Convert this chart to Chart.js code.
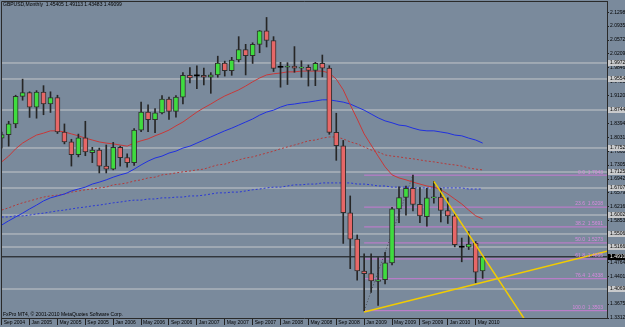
<!DOCTYPE html>
<html>
<head>
<meta charset="utf-8">
<script src="https://cdn.jsdelivr.net/npm/chart.js@4.4.1/dist/chart.umd.min.js"></script>
<style>
  html, body { margin: 0; padding: 0; background: #7a8a9c; }
  #wrap { width: 625px; height: 327px; }
</style>
</head>
<body>
<div id="wrap"><canvas id="chartGbp" width="625" height="327"></canvas></div>
<script>
// GBPUSD monthly, Sep 2004 .. Jun 2010 (index 0 = Sep 2004)
const opens  = [1.801,1.810,1.838,1.910,1.920,1.882,1.921,1.890,1.907,1.817, 1.791,1.758,1.802,1.763,1.770,1.728,1.720,1.777,1.750,1.737,
                1.822,1.869,1.849,1.867,1.903,1.871,1.908,1.965,1.9635,1.965, 1.960,1.966,1.997,1.977,2.005,2.032,2.016,2.046,2.081,2.056,
                1.986,1.986,1.989,1.984,1.986,1.978,1.996,1.984,1.816,1.781, 1.606,1.537,1.454,1.447,1.427,1.431,1.475,1.616,1.646,1.670,
                1.628,1.596,1.645,1.647,1.612,1.598,1.516,1.516,1.527,1.454];
const highs  = [1.817,1.845,1.913,1.955,1.922,1.925,1.938,1.922,1.913,1.838, 1.798,1.8115,1.845,1.777,1.775,1.783,1.790,1.780,1.760,1.826,
                1.895,1.888,1.878,1.912,1.908,1.912,1.972,1.985,1.990,1.984, 1.972,2.015,2.002,2.012,2.066,2.046,2.050,2.082,2.1161,2.066,
                1.999,1.998,2.040,2.003,1.992,1.999,2.018,1.990,1.866,1.795, 1.650,1.548,1.499,1.499,1.489,1.503,1.620,1.674,1.676,1.7043,
                1.672,1.670,1.688,1.670,1.645,1.605,1.540,1.557,1.531,1.4911];
const lows   = [1.775,1.780,1.828,1.900,1.855,1.853,1.862,1.868,1.813,1.786, 1.728,1.752,1.755,1.737,1.710,1.710,1.718,1.728,1.725,1.730,
                1.818,1.818,1.815,1.864,1.850,1.856,1.890,1.945,1.930,1.940, 1.918,1.960,1.963,1.965,2.000,1.966,1.996,2.024,2.039,1.975,
                1.934,1.941,1.973,1.960,1.937,1.938,1.961,1.811,1.743,1.526, 1.460,1.430,1.350,1.398,1.364,1.420,1.470,1.580,1.600,1.611,
                1.580,1.571,1.631,1.582,1.578,1.517,1.478,1.510,1.423,1.4348];
const closes = [1.810,1.838,1.910,1.920,1.882,1.921,1.890,1.907,1.817,1.791, 1.758,1.802,1.765,1.770,1.728,1.720,1.777,1.750,1.737,1.822,
                1.869,1.849,1.867,1.903,1.871,1.908,1.965,1.958,1.9635,1.960, 1.966,1.997,1.977,2.005,2.032,2.016,2.046,2.081,2.056,1.983,
                1.986,1.989,1.984,1.986,1.978,1.996,1.984,1.816,1.781,1.606, 1.537,1.454,1.447,1.428,1.431,1.475,1.616,1.646,1.670,1.628,
                1.598,1.645,1.647,1.612,1.598,1.523,1.516,1.524,1.451,1.4910];

// moving averages
const maRed = [1.739,1.754,1.773,1.788,1.799,1.809,1.814,1.820,1.820,1.817, 1.812,1.807,1.801,1.796,1.791,1.788,1.786,1.783,1.780,1.788,
               1.794,1.799,1.807,1.814,1.822,1.833,1.843,1.856,1.869,1.880, 1.890,1.901,1.911,1.919,1.927,1.937,1.948,1.958,1.966,1.969,
               1.971,1.974,1.974,1.976,1.976,1.976,1.976,1.971,1.955,1.927, 1.888,1.851,1.812,1.783,1.754,1.726,1.705,1.697,1.692,1.686,
               1.681,1.676,1.673,1.666,1.655,1.642,1.629,1.613,1.598,1.590];
const maBlue = [1.574,1.585,1.595,1.605,1.616,1.626,1.637,1.645,1.650,1.655, 1.663,1.668,1.673,1.681,1.686,1.692,1.699,1.705,1.710,1.720,
                1.731,1.741,1.749,1.754,1.762,1.767,1.775,1.780,1.788,1.796, 1.804,1.812,1.820,1.827,1.835,1.843,1.851,1.861,1.869,1.874,
                1.882,1.888,1.890,1.893,1.895,1.898,1.901,1.901,1.898,1.895, 1.890,1.882,1.874,1.864,1.854,1.846,1.841,1.835,1.833,1.827,
                1.822,1.820,1.820,1.817,1.814,1.809,1.807,1.801,1.796,1.788];
const maRedSlow = [1.613,1.619,1.626,1.632,1.637,1.642,1.647,1.650,1.652,1.655, 1.660,1.663,1.666,1.668,1.671,1.673,1.679,1.681,1.684,1.689,
                   1.692,1.697,1.699,1.705,1.707,1.710,1.713,1.715,1.718,1.720, 1.726,1.731,1.733,1.739,1.744,1.749,1.752,1.757,1.762,1.767,
                   1.773,1.778,1.783,1.788,1.794,1.796,1.801,1.804,1.804,1.799, 1.791,1.786,1.778,1.770,1.765,1.757,1.754,1.752,1.749,1.747,
                   1.744,1.741,1.739,1.736,1.733,1.731,1.728,1.723,1.720,1.718];
const maBlueSlow = [1.595,1.595,1.598,1.598,1.600,1.603,1.605,1.608,1.611,1.613, 1.616,1.619,1.621,1.624,1.626,1.629,1.632,1.634,1.637,1.639,
                    1.639,1.642,1.642,1.645,1.645,1.647,1.647,1.650,1.650,1.652, 1.655,1.658,1.658,1.660,1.660,1.663,1.666,1.668,1.671,1.673,
                    1.673,1.676,1.679,1.679,1.681,1.681,1.684,1.684,1.684,1.684, 1.684,1.681,1.681,1.679,1.676,1.676,1.673,1.673,1.673,1.671,
                    1.671,1.671,1.671,1.671,1.671,1.671,1.671,1.668,1.668,1.668];

// horizontal lines, fibo, trend lines
const hLevels = [1.9972, 1.9554, 1.8744, 1.7752, 1.7125, 1.6707, 1.6002, 1.5506, 1.5166, 1.4069];
const fibPct = [0.0, 23.6, 38.2, 50.0, 61.8, 76.4, 100.0];
const fibPrice = [1.7043, 1.6208, 1.5691, 1.5273, 1.4855, 1.4338, 1.3503];
const fibAnchor = [{x: 52, y: 1.3503}, {x: 59, y: 1.7043}];
const supportLine = [{x: 52, y: 1.347}, {x: 88, y: 1.5106}];
const resistLine = [{x: 62, y: 1.688}, {x: 75, y: 1.3283}];
const currentPrice = 1.4910;

const xTickIdx = [0,4,8,12,16,20,24,28,32,36,40,44,48,52,56,60,64,68];
const xTickLabels = ['Sep 2004','Jan 2005','May 2005','Sep 2005','Jan 2006','May 2006','Sep 2006','Jan 2007','May 2007',
                     'Sep 2007','Jan 2008','May 2008','Sep 2008','Jan 2009','May 2009','Sep 2009','Jan 2010','May 2010'];
const yTicks = [2.1298,2.0935,2.0572,2.0209,1.9846,1.9483,1.9120,1.8757,1.8394,1.8031,1.7668,1.7305,
                1.6942,1.6579,1.6216,1.5853,1.5490,1.5127,1.4764,1.4401,1.4038,1.3675,1.3312];

const titleText = 'GBPUSD,Monthly  1.45405 1.49113 1.43483 1.49099';
const footerText = 'FxPro MT4, \u00a9 2001-2010 MetaQuotes Software Corp.';

const X_MIN = -0.1, X_MAX = 86.84;
const Y_MIN = 1.3312, Y_MAX = 2.1591;
const FONT = '"Liberation Sans", Arial, sans-serif';

const idx = opens.map((_, i) => i);
const candleColor = idx.map(i => closes[i] > opens[i] ? '#3fdc3f' : (closes[i] < opens[i] ? '#e66767' : '#000000'));

const lineSet = (data, color, width, dash, order) => ({
  type: 'line', data: data, borderColor: color, borderWidth: width, borderDash: dash || [],
  pointRadius: 0, tension: 0, order: order
});

const datasets = [
  {
    type: 'bar', data: idx.map(i => ({x: i, y: [opens[i], closes[i]]})),
    backgroundColor: candleColor, borderColor: '#303030',
    borderWidth: idx.map(i => closes[i] === opens[i] ? 0 : 1),
    borderSkipped: false, barThickness: 5, minBarLength: 1, grouped: false, order: 1
  },
  {
    type: 'bar', data: idx.map(i => ({x: i, y: [lows[i], highs[i]]})),
    backgroundColor: '#262626', barThickness: 1, grouped: false, order: 2
  },
  lineSet(idx.map(i => ({x: i, y: maRed[i]})), '#c93838', 1, null, 5),
  lineSet(idx.map(i => ({x: i, y: maBlue[i]})), '#2030e0', 1, null, 5),
  lineSet(idx.map(i => ({x: i, y: maRedSlow[i]})), '#b53a3a', 1, [2, 2], 6),
  lineSet(idx.map(i => ({x: i, y: maBlueSlow[i]})), '#2a38d6', 1, [2, 2], 6),
  lineSet([{x: X_MIN - 2, y: currentPrice}, {x: X_MAX + 2, y: currentPrice}], '#111111', 1, null, 4),
  lineSet(fibAnchor, 'rgba(50,50,50,0.7)', 1, [1, 2], 7),
  lineSet(supportLine, '#f2cc00', 1.5, null, -1),
  lineSet(resistLine, '#f2cc00', 1.5, null, -1)
];
hLevels.forEach(p => datasets.push(lineSet([{x: X_MIN - 2, y: p}, {x: X_MAX + 2, y: p}], '#c4c7ca', 1, null, 10)));
fibPrice.forEach(p => datasets.push(lineSet([{x: fibAnchor[0].x, y: p}, {x: X_MAX + 2, y: p}], '#c87ad2', 1, null, 9)));

const mt4Overlay = {
  id: 'mt4Overlay',
  beforeDraw(chart) {
    const c = chart.ctx;
    c.save();
    c.fillStyle = '#7a8a9c';
    c.fillRect(0, 0, chart.width, chart.height);
    c.restore();
  },
  afterDraw(chart) {
    const c = chart.ctx, a = chart.chartArea, ys = chart.scales.y;
    c.save();
    // frame
    c.strokeStyle = '#2a2a2a';
    c.lineWidth = 1;
    c.beginPath();
    c.moveTo(a.left + 0.5, a.bottom);
    c.lineTo(a.left + 0.5, a.top + 0.5);
    c.lineTo(a.right, a.top + 0.5);
    c.stroke();

    // fibo labels
    c.font = '5px ' + FONT;
    c.fillStyle = '#d98ae0';
    c.textAlign = 'right';
    c.textBaseline = 'bottom';
    fibPct.forEach((pct, i) => {
      c.fillText(pct.toFixed(1) + '  ' + fibPrice[i].toFixed(4), a.right - 4, ys.getPixelForValue(fibPrice[i]) - 0.5);
    });

    // axis boxes for the horizontal lines
    c.textAlign = 'left';
    c.textBaseline = 'middle';
    hLevels.forEach(p => {
      const py = Math.round(ys.getPixelForValue(p));
      c.fillStyle = '#c9cacc';
      c.fillRect(a.right + 1, py - 3, 24, 6);
      c.fillStyle = '#000';
      c.fillText(p.toFixed(5), a.right + 3, py);
    });
    const cy = Math.round(ys.getPixelForValue(currentPrice));
    c.fillStyle = '#000';
    c.fillRect(a.right + 1, cy - 3, 24, 6);
    c.fillStyle = '#fff';
    c.fillText(currentPrice.toFixed(5), a.right + 3, cy);

    // title and footer
    c.fillStyle = '#000';
    c.textBaseline = 'top';
    c.fillText(titleText, 3, 2);
    c.textBaseline = 'bottom';
    c.fillText(footerText, 3, a.bottom - 1);
    c.restore();
  }
};

new Chart(document.getElementById('chartGbp'), {
  type: 'bar',
  data: { datasets: datasets },
  options: {
    responsive: false,
    animation: false,
    events: [],
    devicePixelRatio: 1,
    layout: { padding: { top: 1, left: 1, right: 0, bottom: 0 } },
    plugins: { legend: { display: false }, tooltip: { enabled: false }, title: { display: false } },
    scales: {
      x: {
        type: 'linear', position: 'bottom', min: X_MIN, max: X_MAX, offset: false,
        grid: { display: true, drawOnChartArea: false, offset: false, tickLength: 7, color: '#222', tickWidth: 1 },
        border: { display: true, color: '#2a2a2a' },
        afterBuildTicks: (s) => { s.ticks = xTickIdx.map(v => ({value: v})); },
        afterFit: (s) => { s.height = 9; s.paddingLeft = 0; s.paddingRight = 0; },
        ticks: {
          autoSkip: false, maxRotation: 0, minRotation: 0, align: 'start', labelOffset: 2, padding: -5,
          color: '#000', font: { family: FONT, size: 5 },
          callback: (v) => xTickLabels[xTickIdx.indexOf(v)]
        }
      },
      y: {
        type: 'linear', position: 'right', min: Y_MIN, max: Y_MAX,
        grid: { display: true, drawOnChartArea: false, tickLength: 2, color: '#222' },
        border: { display: true, color: '#2a2a2a' },
        afterBuildTicks: (s) => { s.ticks = yTicks.map(v => ({value: v})); },
        afterFit: (s) => { s.width = 18; s.paddingTop = 0; s.paddingBottom = 0; },
        ticks: {
          autoSkip: false, padding: 1, color: '#000', font: { family: FONT, size: 5 },
          callback: (v) => v.toFixed(5)
        }
      }
    }
  },
  plugins: [mt4Overlay]
});
</script>
</body>
</html>
